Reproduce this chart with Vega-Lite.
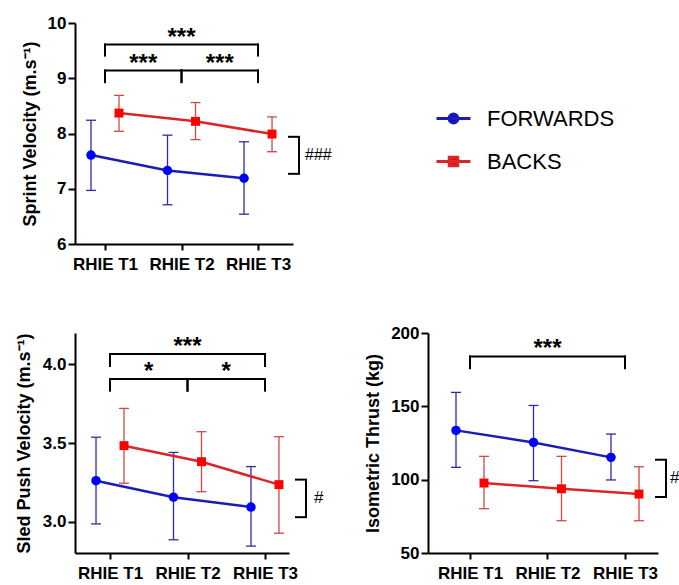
{
  "$schema": "https://vega.github.io/schema/vega-lite/v6.json",
  "usermeta": {"embedOptions": {"actions": false}},
  "background": "white",
  "padding": {"left": 15, "top": 14, "right": 0, "bottom": 0},
  "config": {
    "view": {"stroke": null},
    "font": "Liberation Sans",
    "axis": {"domainColor": "#000", "domainWidth": 2, "tickColor": "#000", "tickWidth": 2, "labelFontSize": 17, "labelFontWeight": "bold", "labelColor": "#000", "labelFont": "Liberation Sans", "titleFont": "Liberation Sans", "titleFontSize": 18, "titleFontWeight": "bold", "titleColor": "#000", "grid": false},
    "axisX": {"tickSize": 6, "labelPadding": 6, "labelFlush": false, "title": null},
    "axisY": {"tickSize": 7, "labelPadding": 2, "titlePadding": 8}
  },
  "spacing": 52,
  "vconcat": [
    {
      "width": 218, "height": 221,
      "data": {"values": [
        {"t": 1, "group": "FORWARDS", "mean": 7.61, "lo": 6.97, "hi": 8.24},
        {"t": 2, "group": "FORWARDS", "mean": 7.33, "lo": 6.71, "hi": 7.97},
        {"t": 3, "group": "FORWARDS", "mean": 7.19, "lo": 6.54, "hi": 7.85},
        {"t": 1, "group": "BACKS", "mean": 8.37, "lo": 8.04, "hi": 8.69},
        {"t": 2, "group": "BACKS", "mean": 8.22, "lo": 7.89, "hi": 8.56},
        {"t": 3, "group": "BACKS", "mean": 7.99, "lo": 7.67, "hi": 8.30}
      ]},
      "layer": [
        {"transform": [{"filter": "datum.group === 'FORWARDS'"}],
         "mark": {"type": "rule", "color": "#2e2e9e", "strokeWidth": 1.3, "xOffset": -14},
         "encoding": {
           "x": {"field": "t", "type": "quantitative", "scale": {"domain": [0.608, 3.457], "nice": false, "zero": false}, "axis": {"values": [1, 2, 3], "labelExpr": "'RHIE T' + datum.value"}},
           "y": {"field": "lo", "type": "quantitative", "scale": {"domain": [6, 10], "nice": false, "zero": false}, "axis": {"values": [6, 7, 8, 9, 10], "format": "d", "title": "Sprint Velocity (m.s⁻¹)"}},
           "y2": {"field": "hi"}}},
        {"transform": [{"filter": "datum.group === 'FORWARDS'"}, {"fold": ["lo", "hi"], "as": ["k", "v"]}],
         "mark": {"type": "rule", "color": "#2e2e9e", "strokeWidth": 1.3, "xOffset": -19, "x2Offset": -9},
         "encoding": {"x": {"field": "t", "type": "quantitative"}, "x2": {"field": "t"}, "y": {"field": "v", "type": "quantitative"}}},
        {"transform": [{"filter": "datum.group === 'BACKS'"}],
         "mark": {"type": "rule", "color": "#d04848", "strokeWidth": 1.3, "xOffset": 14},
         "encoding": {"x": {"field": "t", "type": "quantitative"}, "y": {"field": "lo", "type": "quantitative"}, "y2": {"field": "hi"}}},
        {"transform": [{"filter": "datum.group === 'BACKS'"}, {"fold": ["lo", "hi"], "as": ["k", "v"]}],
         "mark": {"type": "rule", "color": "#d04848", "strokeWidth": 1.3, "xOffset": 9, "x2Offset": 19},
         "encoding": {"x": {"field": "t", "type": "quantitative"}, "x2": {"field": "t"}, "y": {"field": "v", "type": "quantitative"}}},
        {"transform": [{"filter": "datum.group === 'FORWARDS'"}],
         "mark": {"type": "line", "color": "#1c1cb4", "strokeWidth": 2.5, "xOffset": -14},
         "encoding": {"x": {"field": "t", "type": "quantitative"}, "y": {"field": "mean", "type": "quantitative"}}},
        {"transform": [{"filter": "datum.group === 'BACKS'"}],
         "mark": {"type": "line", "color": "#d92626", "strokeWidth": 2.5, "xOffset": 14},
         "encoding": {"x": {"field": "t", "type": "quantitative"}, "y": {"field": "mean", "type": "quantitative"}}},
        {"transform": [{"filter": "datum.group === 'FORWARDS'"}],
         "mark": {"type": "circle", "size": 90, "opacity": 1, "xOffset": -14},
         "encoding": {"x": {"field": "t", "type": "quantitative"}, "y": {"field": "mean", "type": "quantitative"},
           "color": {"field": "group", "type": "nominal", "scale": {"domain": ["FORWARDS", "BACKS"], "range": ["#0000ff", "#ff0000"]},
             "legend": {"orient": "none", "legendX": 360, "legendY": 77, "title": null, "padding": 0, "labelFont": "Liberation Sans", "labelFontSize": 22, "labelColor": "#000", "labelOffset": 15, "rowPadding": 13, "symbolSize": 1156, "symbolOpacity": 1, "symbolStrokeWidth": 3,
               "encode": {"symbols": {"update": {
                 "shape": {"signal": "datum.value === 'FORWARDS' ? 'M-1,0H1M-0.26,0A0.26,0.26,0,1,1,0.26,0A0.26,0.26,0,1,1,-0.26,0' : 'M-1,0H1M-0.25,-0.25H0.25V0.25H-0.25Z'"},
                 "stroke": {"signal": "datum.value === 'FORWARDS' ? '#1c1cb4' : '#d92626'"},
                 "fill": {"signal": "datum.value === 'FORWARDS' ? '#0000ff' : '#ff0000'"},
                 "strokeWidth": {"value": 3}, "opacity": {"value": 1}}}}}}}},
        {"transform": [{"filter": "datum.group === 'BACKS'"}],
         "mark": {"type": "square", "size": 80, "opacity": 1, "xOffset": 14},
         "encoding": {"x": {"field": "t", "type": "quantitative"}, "y": {"field": "mean", "type": "quantitative"},
           "color": {"field": "group", "type": "nominal"}}},
        {"data": {"values": [
           {"id": "a13", "from": 1, "to": 3, "by": 9.61, "bl": 9.41, "label": "***"},
           {"id": "a12", "from": 1, "to": 2, "by": 9.14, "bl": 8.93, "label": "***"},
           {"id": "a23", "from": 2, "to": 3, "by": 9.14, "bl": 8.93, "label": "***"}]},
         "layer": [
           {"mark": {"type": "rule", "color": "#000", "strokeWidth": 2, "strokeCap": "square"},
            "encoding": {"x": {"field": "from", "type": "quantitative"}, "x2": {"field": "to"}, "y": {"field": "by", "type": "quantitative"}}},
           {"transform": [{"fold": ["from", "to"], "as": ["k", "v"]}],
            "mark": {"type": "rule", "color": "#000", "strokeWidth": 2, "strokeCap": "square"},
            "encoding": {"x": {"field": "v", "type": "quantitative"}, "y": {"field": "by", "type": "quantitative"}, "y2": {"field": "bl"}}},
           {"transform": [{"fold": ["from", "to"], "as": ["k", "v"]}],
            "mark": {"type": "text", "fontSize": 24, "fontWeight": "bold", "baseline": "alphabetic", "align": "center", "color": "#000"},
            "encoding": {"x": {"field": "v", "type": "quantitative", "aggregate": "mean"}, "y": {"field": "by", "type": "quantitative"}, "detail": {"field": "id"}, "text": {"field": "label"}}}
         ]},
        {"data": {"values": [{"t": 3, "top": 7.94, "bot": 7.27, "label": "###"}]},
         "layer": [
           {"mark": {"type": "rule", "color": "#000", "strokeWidth": 2, "xOffset": 41},
            "encoding": {"x": {"field": "t", "type": "quantitative"}, "y": {"field": "top", "type": "quantitative"}, "y2": {"field": "bot"}}},
           {"transform": [{"fold": ["top", "bot"], "as": ["k", "v"]}],
            "mark": {"type": "rule", "color": "#000", "strokeWidth": 2, "xOffset": 30, "x2Offset": 42},
            "encoding": {"x": {"field": "t", "type": "quantitative"}, "x2": {"field": "t"}, "y": {"field": "v", "type": "quantitative"}}},
           {"transform": [{"fold": ["top", "bot"], "as": ["k", "v"]}],
            "mark": {"type": "text", "fontSize": 16, "baseline": "middle", "align": "left", "color": "#000", "xOffset": 47},
            "encoding": {"x": {"field": "t", "type": "quantitative"}, "y": {"field": "v", "type": "quantitative", "aggregate": "mean"}, "text": {"field": "label"}}}
         ]}
      ]
    },
    {
      "spacing": 40,
      "hconcat": [
        {
          "width": 214, "height": 220,
          "data": {"values": [
            {"t": 1, "group": "FORWARDS", "mean": 3.26, "lo": 2.985, "hi": 3.537},
            {"t": 2, "group": "FORWARDS", "mean": 3.155, "lo": 2.884, "hi": 3.44},
            {"t": 3, "group": "FORWARDS", "mean": 3.092, "lo": 2.844, "hi": 3.35},
            {"t": 1, "group": "BACKS", "mean": 3.483, "lo": 3.244, "hi": 3.72},
            {"t": 2, "group": "BACKS", "mean": 3.381, "lo": 3.19, "hi": 3.572},
            {"t": 3, "group": "BACKS", "mean": 3.235, "lo": 2.926, "hi": 3.54}
          ]},
          "layer": [
            {"transform": [{"filter": "datum.group === 'FORWARDS'"}],
             "mark": {"type": "rule", "color": "#2e2e9e", "strokeWidth": 1.3, "xOffset": -14},
             "encoding": {
               "x": {"field": "t", "type": "quantitative", "scale": {"domain": [0.548, 3.31], "nice": false, "zero": false}, "axis": {"values": [1, 2, 3], "labelExpr": "'RHIE T' + datum.value"}},
               "y": {"field": "lo", "type": "quantitative", "scale": {"domain": [2.8, 4.2], "nice": false, "zero": false}, "axis": {"values": [3.0, 3.5, 4.0], "format": ".1f", "title": "Sled Push Velocity (m.s⁻¹)", "titlePadding": 9}},
               "y2": {"field": "hi"}}},
            {"transform": [{"filter": "datum.group === 'FORWARDS'"}, {"fold": ["lo", "hi"], "as": ["k", "v"]}],
             "mark": {"type": "rule", "color": "#2e2e9e", "strokeWidth": 1.3, "xOffset": -19, "x2Offset": -9},
             "encoding": {"x": {"field": "t", "type": "quantitative"}, "x2": {"field": "t"}, "y": {"field": "v", "type": "quantitative"}}},
            {"transform": [{"filter": "datum.group === 'BACKS'"}],
             "mark": {"type": "rule", "color": "#d04848", "strokeWidth": 1.3, "xOffset": 14},
             "encoding": {"x": {"field": "t", "type": "quantitative"}, "y": {"field": "lo", "type": "quantitative"}, "y2": {"field": "hi"}}},
            {"transform": [{"filter": "datum.group === 'BACKS'"}, {"fold": ["lo", "hi"], "as": ["k", "v"]}],
             "mark": {"type": "rule", "color": "#d04848", "strokeWidth": 1.3, "xOffset": 9, "x2Offset": 19},
             "encoding": {"x": {"field": "t", "type": "quantitative"}, "x2": {"field": "t"}, "y": {"field": "v", "type": "quantitative"}}},
            {"transform": [{"filter": "datum.group === 'FORWARDS'"}],
             "mark": {"type": "line", "color": "#1c1cb4", "strokeWidth": 2.5, "xOffset": -14},
             "encoding": {"x": {"field": "t", "type": "quantitative"}, "y": {"field": "mean", "type": "quantitative"}}},
            {"transform": [{"filter": "datum.group === 'BACKS'"}],
             "mark": {"type": "line", "color": "#d92626", "strokeWidth": 2.5, "xOffset": 14},
             "encoding": {"x": {"field": "t", "type": "quantitative"}, "y": {"field": "mean", "type": "quantitative"}}},
            {"transform": [{"filter": "datum.group === 'FORWARDS'"}],
             "mark": {"type": "circle", "size": 90, "opacity": 1, "color": "#0000ff", "xOffset": -14},
             "encoding": {"x": {"field": "t", "type": "quantitative"}, "y": {"field": "mean", "type": "quantitative"}}},
            {"transform": [{"filter": "datum.group === 'BACKS'"}],
             "mark": {"type": "square", "size": 80, "opacity": 1, "color": "#ff0000", "xOffset": 14},
             "encoding": {"x": {"field": "t", "type": "quantitative"}, "y": {"field": "mean", "type": "quantitative"}}},
            {"data": {"values": [
               {"id": "b13", "from": 1, "to": 3, "by": 4.066, "bl": 3.99, "label": "***"},
               {"id": "b12", "from": 1, "to": 2, "by": 3.907, "bl": 3.833, "label": "*"},
               {"id": "b23", "from": 2, "to": 3, "by": 3.907, "bl": 3.833, "label": "*"}]},
             "layer": [
               {"mark": {"type": "rule", "color": "#000", "strokeWidth": 2, "strokeCap": "square"},
                "encoding": {"x": {"field": "from", "type": "quantitative"}, "x2": {"field": "to"}, "y": {"field": "by", "type": "quantitative"}}},
               {"transform": [{"fold": ["from", "to"], "as": ["k", "v"]}],
                "mark": {"type": "rule", "color": "#000", "strokeWidth": 2, "strokeCap": "square"},
                "encoding": {"x": {"field": "v", "type": "quantitative"}, "y": {"field": "by", "type": "quantitative"}, "y2": {"field": "bl"}}},
               {"transform": [{"fold": ["from", "to"], "as": ["k", "v"]}],
                "mark": {"type": "text", "fontSize": 24, "fontWeight": "bold", "baseline": "alphabetic", "align": "center", "color": "#000"},
                "encoding": {"x": {"field": "v", "type": "quantitative", "aggregate": "mean"}, "y": {"field": "by", "type": "quantitative"}, "detail": {"field": "id"}, "text": {"field": "label"}}}
             ]},
            {"data": {"values": [{"t": 3, "top": 3.267, "bot": 3.028, "label": "#"}]},
             "layer": [
               {"mark": {"type": "rule", "color": "#000", "strokeWidth": 2, "xOffset": 41},
                "encoding": {"x": {"field": "t", "type": "quantitative"}, "y": {"field": "top", "type": "quantitative"}, "y2": {"field": "bot"}}},
               {"transform": [{"fold": ["top", "bot"], "as": ["k", "v"]}],
                "mark": {"type": "rule", "color": "#000", "strokeWidth": 2, "xOffset": 30, "x2Offset": 42},
                "encoding": {"x": {"field": "t", "type": "quantitative"}, "x2": {"field": "t"}, "y": {"field": "v", "type": "quantitative"}}},
               {"transform": [{"fold": ["top", "bot"], "as": ["k", "v"]}],
                "mark": {"type": "text", "fontSize": 17, "baseline": "middle", "align": "left", "color": "#000", "xOffset": 49},
                "encoding": {"x": {"field": "t", "type": "quantitative"}, "y": {"field": "v", "type": "quantitative", "aggregate": "mean"}, "text": {"field": "label"}}}
             ]}
          ]
        },
        {
          "width": 230, "height": 220,
          "data": {"values": [
            {"t": 1, "group": "FORWARDS", "mean": 133.6, "lo": 108.4, "hi": 159.5},
            {"t": 2, "group": "FORWARDS", "mean": 125.4, "lo": 99.3, "hi": 150.6},
            {"t": 3, "group": "FORWARDS", "mean": 115.2, "lo": 99.8, "hi": 131.1},
            {"t": 1, "group": "BACKS", "mean": 97.7, "lo": 80.2, "hi": 115.9},
            {"t": 2, "group": "BACKS", "mean": 93.8, "lo": 72.0, "hi": 115.9},
            {"t": 3, "group": "BACKS", "mean": 90.2, "lo": 72.0, "hi": 108.8}
          ]},
          "layer": [
            {"transform": [{"filter": "datum.group === 'FORWARDS'"}],
             "mark": {"type": "rule", "color": "#2e2e9e", "strokeWidth": 1.3, "xOffset": -14},
             "encoding": {
               "x": {"field": "t", "type": "quantitative", "scale": {"domain": [0.458, 3.426], "nice": false, "zero": false}, "axis": {"values": [1, 2, 3], "labelExpr": "'RHIE T' + datum.value"}},
               "y": {"field": "lo", "type": "quantitative", "scale": {"domain": [50, 200], "nice": false, "zero": false}, "axis": {"values": [50, 100, 150, 200], "title": "Isometric Thrust (kg)"}},
               "y2": {"field": "hi"}}},
            {"transform": [{"filter": "datum.group === 'FORWARDS'"}, {"fold": ["lo", "hi"], "as": ["k", "v"]}],
             "mark": {"type": "rule", "color": "#2e2e9e", "strokeWidth": 1.3, "xOffset": -19, "x2Offset": -9},
             "encoding": {"x": {"field": "t", "type": "quantitative"}, "x2": {"field": "t"}, "y": {"field": "v", "type": "quantitative"}}},
            {"transform": [{"filter": "datum.group === 'BACKS'"}],
             "mark": {"type": "rule", "color": "#d04848", "strokeWidth": 1.3, "xOffset": 14},
             "encoding": {"x": {"field": "t", "type": "quantitative"}, "y": {"field": "lo", "type": "quantitative"}, "y2": {"field": "hi"}}},
            {"transform": [{"filter": "datum.group === 'BACKS'"}, {"fold": ["lo", "hi"], "as": ["k", "v"]}],
             "mark": {"type": "rule", "color": "#d04848", "strokeWidth": 1.3, "xOffset": 9, "x2Offset": 19},
             "encoding": {"x": {"field": "t", "type": "quantitative"}, "x2": {"field": "t"}, "y": {"field": "v", "type": "quantitative"}}},
            {"transform": [{"filter": "datum.group === 'FORWARDS'"}],
             "mark": {"type": "line", "color": "#1c1cb4", "strokeWidth": 2.5, "xOffset": -14},
             "encoding": {"x": {"field": "t", "type": "quantitative"}, "y": {"field": "mean", "type": "quantitative"}}},
            {"transform": [{"filter": "datum.group === 'BACKS'"}],
             "mark": {"type": "line", "color": "#d92626", "strokeWidth": 2.5, "xOffset": 14},
             "encoding": {"x": {"field": "t", "type": "quantitative"}, "y": {"field": "mean", "type": "quantitative"}}},
            {"transform": [{"filter": "datum.group === 'FORWARDS'"}],
             "mark": {"type": "circle", "size": 90, "opacity": 1, "color": "#0000ff", "xOffset": -14},
             "encoding": {"x": {"field": "t", "type": "quantitative"}, "y": {"field": "mean", "type": "quantitative"}}},
            {"transform": [{"filter": "datum.group === 'BACKS'"}],
             "mark": {"type": "square", "size": 80, "opacity": 1, "color": "#ff0000", "xOffset": 14},
             "encoding": {"x": {"field": "t", "type": "quantitative"}, "y": {"field": "mean", "type": "quantitative"}}},
            {"data": {"values": [
               {"id": "c13", "from": 1, "to": 3, "by": 184, "bl": 176, "label": "***"}]},
             "layer": [
               {"mark": {"type": "rule", "color": "#000", "strokeWidth": 2, "strokeCap": "square"},
                "encoding": {"x": {"field": "from", "type": "quantitative"}, "x2": {"field": "to"}, "y": {"field": "by", "type": "quantitative"}}},
               {"transform": [{"fold": ["from", "to"], "as": ["k", "v"]}],
                "mark": {"type": "rule", "color": "#000", "strokeWidth": 2, "strokeCap": "square"},
                "encoding": {"x": {"field": "v", "type": "quantitative"}, "y": {"field": "by", "type": "quantitative"}, "y2": {"field": "bl"}}},
               {"transform": [{"fold": ["from", "to"], "as": ["k", "v"]}],
                "mark": {"type": "text", "fontSize": 24, "fontWeight": "bold", "baseline": "alphabetic", "align": "center", "color": "#000"},
                "encoding": {"x": {"field": "v", "type": "quantitative", "aggregate": "mean"}, "y": {"field": "by", "type": "quantitative"}, "detail": {"field": "id"}, "text": {"field": "label"}}}
             ]},
            {"data": {"values": [{"t": 3, "top": 113.6, "bot": 88.2, "label": "#"}]},
             "layer": [
               {"mark": {"type": "rule", "color": "#000", "strokeWidth": 2, "xOffset": 41},
                "encoding": {"x": {"field": "t", "type": "quantitative"}, "y": {"field": "top", "type": "quantitative"}, "y2": {"field": "bot"}}},
               {"transform": [{"fold": ["top", "bot"], "as": ["k", "v"]}],
                "mark": {"type": "rule", "color": "#000", "strokeWidth": 2, "xOffset": 30, "x2Offset": 42},
                "encoding": {"x": {"field": "t", "type": "quantitative"}, "x2": {"field": "t"}, "y": {"field": "v", "type": "quantitative"}}},
               {"transform": [{"fold": ["top", "bot"], "as": ["k", "v"]}],
                "mark": {"type": "text", "fontSize": 17, "baseline": "middle", "align": "left", "color": "#000", "xOffset": 45},
                "encoding": {"x": {"field": "t", "type": "quantitative"}, "y": {"field": "v", "type": "quantitative", "aggregate": "mean"}, "text": {"field": "label"}}}
             ]}
          ]
        }
      ]
    }
  ]
}
